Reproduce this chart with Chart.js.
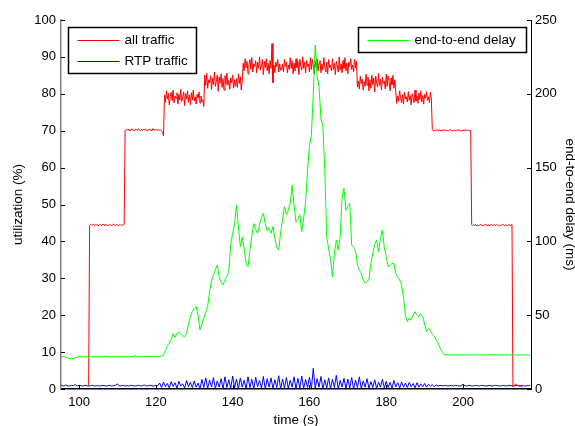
<!DOCTYPE html>
<html>
<head>
<meta charset="utf-8">
<script src="https://cdn.jsdelivr.net/npm/chart.js@4.4.1/dist/chart.umd.min.js"></script>
<style>
  body { margin: 0; background: #fff; }
  #wrap { width: 575px; height: 426px; }
</style>
</head>
<body>
<div id="wrap"><canvas id="c" width="575" height="426"></canvas></div>
<script>
// all traffic sampled every 0.25 s from t = 102.5 s
var trafficStart = 102.5;
var trafficStep = 0.25;
// RTP traffic and delay sampled every 0.5 s from t = 95 s
var sampleStart = 95;
var sampleStep = 0.5;

// all traffic (%), left axis
var allTraffic = [
  0.9,
  44.3, 44.6, 44.4, 44.5, 44.7, 44.3, 44.5, 44.4, 44.6, 44.2, 44.5, 44.6, 44.3, 44.4, 44.7, 44.5, 44.3, 44.6, 44.4,
  44.2, 44.5, 44.6, 44.4, 44.3, 44.5, 44.7, 44.4, 44.3, 44.6, 44.5, 44.2, 44.4, 44.6, 44.3, 44.5, 44.4, 44.6,
  70.0, 70.3, 70.1, 70.4, 70.2, 69.9, 70.3, 70.5, 70.1, 70.2, 70.0, 70.4, 70.3, 70.1, 70.6, 70.2, 70.0, 70.3, 70.1, 70.4,
  70.2, 70.5, 70.1, 69.9, 70.3, 70.2, 70.4, 70.0, 70.2, 70.6, 70.1, 70.3, 70.2, 70.4, 70.0, 70.3, 70.1, 70.2, 70.0, 69.5, 68.6,
  79.7, 77.7, 80.8, 78.6, 80.1, 77.0, 79.2, 80.5, 78.1, 81.0, 77.5, 79.4, 78.8, 80.3, 77.2, 79.9, 78.3, 81.2, 77.9, 79.0,
  80.5, 76.8, 80.1, 78.6, 80.8, 77.7, 79.7, 77.0, 80.3, 78.3, 81.0, 78.1, 79.2, 77.2, 79.9, 78.8, 80.5, 77.5, 79.4, 77.9, 78.4, 76.6,
  85.1, 82.3, 85.6, 81.5, 83.8, 83.0, 84.9, 81.2, 84.3, 82.5, 85.9, 82.0, 83.3, 85.1, 80.7, 84.6, 82.8, 85.4, 81.7, 84.1,
  81.0, 84.9, 82.5, 85.6, 82.3, 83.6, 81.2, 84.3, 83.0, 85.1, 81.5, 83.8, 82.0, 84.1, 81.7, 85.4, 82.8, 84.6, 81.0, 83.6,
  88.3, 86.2, 89.5, 87.1, 88.8, 85.4, 87.8, 89.3, 86.6, 89.8, 85.9, 88.1, 87.4, 89.0, 85.7, 88.6, 86.9, 90.0, 86.4, 87.6,
  89.3, 85.2, 88.8, 87.1, 89.5, 86.2, 88.3, 85.4, 89.0, 86.9, 93.6, 83.0, 87.8, 85.7, 88.6, 87.4, 89.3, 85.9, 88.1, 86.4,
  86.4, 88.1, 85.9, 89.3, 87.4, 88.6, 85.7, 87.8, 86.6, 89.8, 86.9, 89.0, 85.4, 88.3, 86.2, 89.5, 87.1, 88.8, 85.2, 89.3,
  87.6, 86.4, 90.0, 86.9, 88.6, 85.7, 89.0, 87.4, 88.1, 85.9, 89.8, 86.6, 89.3, 87.8, 85.4, 88.8, 87.1, 89.5, 86.2, 88.3,
  89.0, 85.7, 88.1, 86.4, 89.8, 87.4, 85.9, 88.6, 85.4, 89.3, 87.1, 87.8, 86.2, 89.5, 86.6, 88.3, 85.2, 88.8, 87.6, 85.9,
  90.0, 86.4, 88.1, 85.7, 89.0, 86.9, 89.8, 86.2, 88.3, 85.4, 88.6, 87.4, 89.5, 86.6, 87.8, 85.9, 89.3, 87.1, 88.8,
  81.8, 83.5, 81.3, 84.8, 82.8, 84.0, 81.0, 83.3, 82.0, 85.3, 82.3, 84.5, 80.8, 83.8, 81.5, 85.0, 82.5, 84.3, 80.5, 84.8,
  83.0, 81.8, 85.5, 82.3, 84.0, 81.0, 84.5, 82.8, 83.5, 81.3, 85.3, 82.0, 84.8, 83.3, 80.8, 84.3, 82.5, 85.0, 81.5, 83.8,
  80.2, 77.4, 79.4, 78.0, 80.8, 78.8, 77.6, 79.8, 77.2, 80.4, 78.6, 79.2, 77.8, 80.6, 78.2, 79.6, 77.0, 80.0, 79.0, 77.6,
  81.0, 78.0, 79.4, 77.4, 80.2, 78.4, 80.8, 77.8, 79.6, 77.2, 79.8, 78.8, 80.6, 78.2, 79.2, 77.6, 80.4, 78.6,
  70.3, 70.0, 70.2, 69.9, 70.1, 70.3, 70.0, 70.2, 70.1, 69.9, 70.2, 70.0, 70.3, 70.1, 70.2, 69.9, 70.1, 70.0, 70.2, 70.3,
  70.0, 70.1, 69.9, 70.2, 70.1, 70.0, 70.3, 70.1, 70.2, 70.0, 69.9, 70.1, 70.2, 70.0, 70.3, 70.1, 70.0, 70.2, 70.1, 69.9, 70.1,
  44.6, 44.3, 44.5, 44.4, 44.6, 44.2, 44.5, 44.3, 44.4, 44.6, 44.5, 44.3, 44.2, 44.5, 44.4, 44.6, 44.3, 44.5, 44.4, 44.2,
  44.5, 44.6, 44.3, 44.4, 44.5, 44.3, 44.6, 44.4, 44.2, 44.5, 44.3, 44.4, 44.6, 44.5, 44.3, 44.4, 44.5, 44.2, 44.4, 44.6,
  44.3, 44.5, 44.4,
  0.6, 0.9, 1.2, 1.4, 1.1, 0.8, 0.9, 0.7, 0.8, 0.6, 0.7
];

// RTP traffic (%), left axis
var rtpTraffic = [
  0.9, 1.0, 0.8, 1.1, 0.9, 0.8, 1.0, 0.9, 1.2, 0.8,
  1.0, 0.9, 0.8, 1.0, 0.9, 0.8, 0.9, 1.0, 0.8, 0.9,
  0.9, 0.8, 1.0, 0.9, 0.8, 0.9, 1.0, 0.8, 0.9, 1.0,
  1.4, 0.8, 0.9, 1.0, 0.8, 0.9, 0.8, 1.0, 0.9, 0.8,
  0.9, 1.0, 0.8, 0.9, 1.1, 0.8, 0.9, 1.0, 0.9, 0.8,
  1.0, 0.9, 1.6, 0.4, 1.9, 0.6, 1.5, 0.3, 2.0, 0.7,
  1.7, 0.2, 2.1, 0.8, 1.4, 0.3, 2.3, 0.6, 1.8, 0.4,
  2.2, 0.5, 1.6, 0.1, 2.6, 0.4, 3.0, 0.2, 2.4, 0.6,
  3.1, 0.1, 2.2, 0.5, 2.8, 0.0, 3.3, 0.4, 2.5, 0.2,
  3.5, 0.3, 2.7, 0.0, 3.0, 0.5, 2.4, 0.1, 3.3, 0.4,
  2.6, 0.0, 3.2, 0.6, 2.3, 0.2, 3.4, 0.0, 2.8, 0.5,
  3.0, 0.1, 2.5, 0.4, 3.6, 0.0, 2.7, 0.3, 3.1, 0.1,
  2.4, 0.5, 3.3, 0.0, 2.9, 0.2, 3.5, 0.1, 2.6, 0.4,
  3.2, 0.0, 5.6, 0.2, 2.8, 0.5, 3.4, 0.0, 2.5, 0.3,
  3.0, 0.1, 2.6, 0.4, 3.7, 0.0, 2.3, 0.5, 2.9, 0.2,
  2.7, 0.3, 3.1, 0.0, 2.4, 0.4, 3.3, 0.1, 2.2, 0.5,
  2.8, 0.2, 2.0, 0.4, 2.5, 0.1, 1.9, 0.5, 2.6, 0.3,
  2.1, 0.4, 1.8, 0.2, 2.3, 0.6, 1.7, 0.3, 1.9, 0.5,
  1.6, 0.4, 1.8, 0.6, 1.5, 0.3, 1.7, 0.5, 1.4, 0.6,
  1.5, 0.5, 1.3, 0.7, 1.2, 0.6, 1.1, 0.8, 1.0, 0.9,
  0.9, 1.0, 0.8, 0.9, 1.0, 0.8, 1.0, 0.9, 0.8, 0.9,
  1.3, 0.9, 0.8, 1.0, 0.9, 0.8, 0.9, 1.0, 0.8, 0.9,
  1.0, 0.9, 0.8, 0.9, 1.0, 0.8, 0.9, 1.0, 0.9, 0.8,
  0.9, 1.0, 0.8, 0.9, 1.0, 0.9, 0.8, 0.9, 1.0, 0.9,
  0.9, 1.0, 0.8, 0.9, 0.9, 1.0
];

// end-to-end delay (ms), right axis
var delay = [
  22.0, 21.8, 22.1, 21.5, 21.0, 20.6, 20.8, 20.4, 20.9, 21.6,
  21.9, 21.8, 21.9, 21.8, 21.9, 21.8, 21.9, 21.8, 21.8, 21.9,
  21.8, 22.0, 21.8, 21.9, 22.2, 21.9, 21.8, 21.9, 22.1, 21.8,
  21.9, 21.8, 21.9, 21.9, 21.8, 21.9, 21.8, 22.0, 21.9, 22.6,
  22.0, 21.9, 21.9, 22.0, 21.9, 22.0, 22.1, 21.9, 22.0, 22.1,
  22.0, 22.1, 22.2, 22.4, 23.0, 26.0, 29.5, 31.0, 33.5, 37.5,
  35.0, 37.8, 38.5, 37.0, 36.0, 35.4, 37.5, 44.0, 49.0, 52.5,
  54.5, 55.8, 50.0, 40.0, 44.0, 48.5, 52.0, 56.0, 66.0, 73.8,
  77.0, 81.0, 84.0, 76.0, 72.0, 70.5, 74.0, 76.0, 80.0, 98.0,
  105.5, 112.0, 124.7, 110.0, 96.4, 103.0, 95.0, 85.0, 82.9, 94.0,
  104.0, 112.0, 108.0, 105.5, 111.0, 116.0, 119.0, 112.0, 107.0, 109.0,
  105.5, 110.0, 102.0, 96.0, 94.0, 106.0, 115.0, 123.5, 118.0, 121.0,
  126.0, 138.0, 124.0, 113.0, 115.0, 118.0, 106.6, 116.0, 127.0, 148.0,
  165.0, 172.0, 200.0, 233.0, 212.0, 205.0, 183.0, 177.7, 148.0, 103.0,
  95.0, 88.0, 76.0, 92.0, 101.0, 94.0, 103.0, 130.0, 136.0, 121.0,
  124.0, 125.8, 97.6, 96.0, 94.0, 84.0, 80.6, 78.4, 74.0, 71.6,
  73.0, 74.0, 85.0, 92.0, 98.0, 101.0, 93.0, 102.0, 107.7, 96.0,
  89.6, 82.9, 84.0, 85.0, 85.0, 78.0, 76.0, 74.0, 70.5, 62.0,
  50.0, 45.6, 48.0, 46.7, 50.0, 52.4, 50.0, 49.0, 51.0, 49.0,
  44.0, 38.8, 41.0, 40.0, 37.0, 36.0, 33.0, 31.0, 28.0, 25.5,
  23.5, 23.2, 23.1, 23.0, 23.2, 23.1, 23.0, 23.1, 23.2, 23.0,
  23.1, 23.0, 23.1, 23.2, 23.0, 23.1, 23.3, 23.1, 23.0, 23.1,
  23.2, 23.1, 23.0, 23.1, 23.3, 23.1, 23.2, 23.0, 23.1, 23.2,
  23.1, 23.0, 23.1, 23.2, 23.0, 23.1, 23.0, 23.1, 23.0, 23.0,
  23.1, 23.0, 23.0, 23.1, 23.0, 23.0
];

var timeTicks = [100, 120, 140, 160, 180, 200];

var FONT = '"Liberation Sans", Arial, Helvetica, sans-serif';

function toPoints(arr, start, step) {
  return arr.map(function(v, i) { return { x: start + i * step, y: v }; });
}

// ticks drawn inward, matlab style
var inwardTicks = {
  id: 'inwardTicks',
  afterDraw: function(chart) {
    var ctx = chart.ctx;
    var area = chart.chartArea;
    ctx.save();
    ctx.strokeStyle = '#000';
    ctx.lineWidth = 1;
    ctx.beginPath();
    chart.scales.x.ticks.forEach(function(t) {
      var px = Math.round(chart.scales.x.getPixelForValue(t.value)) + 0.5;
      ctx.moveTo(px, area.bottom);
      ctx.lineTo(px, area.bottom - 4);
    });
    chart.scales.y.ticks.forEach(function(t) {
      var py = Math.round(chart.scales.y.getPixelForValue(t.value)) + 0.5;
      ctx.moveTo(area.left, py);
      ctx.lineTo(area.left + 4, py);
    });
    chart.scales.y2.ticks.forEach(function(t) {
      var py = Math.round(chart.scales.y2.getPixelForValue(t.value)) + 0.5;
      ctx.moveTo(area.right, py);
      ctx.lineTo(area.right - 4, py);
    });
    ctx.stroke();
    ctx.restore();
  }
};

// two separate legend boxes like the original figure
var boxLegend = {
  id: 'boxLegend',
  afterDraw: function(chart) {
    var boxes = [
      { x: 68.5, y: 27.5, w: 128, items: [0, 1] },
      { x: 358.5, y: 27.5, w: 168, items: [2] }
    ];
    var ctx = chart.ctx;
    ctx.save();
    ctx.font = '13.5px ' + FONT;
    ctx.textBaseline = 'middle';
    boxes.forEach(function(b) {
      var h = 4 + 21 * b.items.length;
      ctx.fillStyle = '#fff';
      ctx.fillRect(b.x, b.y, b.w, h);
      ctx.strokeStyle = '#000';
      ctx.lineWidth = 1.5;
      ctx.strokeRect(b.x, b.y, b.w, h);
      b.items.forEach(function(idx, k) {
        var ds = chart.data.datasets[idx];
        var ly = Math.round(b.y + 12 + 21 * k) + 0.5;
        ctx.strokeStyle = ds.borderColor;
        ctx.lineWidth = 1.2;
        ctx.beginPath();
        ctx.moveTo(b.x + 9, ly);
        ctx.lineTo(b.x + 51, ly);
        ctx.stroke();
        ctx.fillStyle = '#000';
        ctx.fillText(ds.label, b.x + 56, ly);
      });
    });
    ctx.restore();
  }
};

var ctx = document.getElementById('c').getContext('2d');
var chart = new Chart(ctx, {
  type: 'line',
  data: {
    datasets: [
      {
        label: 'all traffic',
        data: toPoints(allTraffic, trafficStart, trafficStep),
        borderColor: '#ff0000',
        borderWidth: 1,
        yAxisID: 'y',
        order: 2
      },
      {
        label: 'RTP traffic',
        data: toPoints(rtpTraffic, sampleStart, sampleStep),
        borderColor: '#0000ff',
        borderWidth: 1,
        yAxisID: 'y',
        order: 3
      },
      {
        label: 'end-to-end delay',
        data: toPoints(delay, sampleStart, sampleStep),
        borderColor: '#00ff00',
        borderWidth: 1,
        yAxisID: 'y2',
        order: 1
      }
    ]
  },
  options: {
    responsive: false,
    animation: false,
    events: [],
    layout: { padding: { top: 20, left: 0, right: 0, bottom: 0 } },
    elements: {
      point: { radius: 0 },
      line: { tension: 0, fill: false }
    },
    plugins: {
      legend: { display: false },
      tooltip: { enabled: false }
    },
    scales: {
      x: {
        type: 'linear',
        position: 'bottom',
        min: 95.3,
        max: 217.7,
        afterBuildTicks: function(s) {
          s.ticks = timeTicks.map(function(v) { return { value: v }; });
        },
        afterFit: function(s) { s.height = 37; },
        grid: { display: false, drawTicks: false },
        border: { display: true, color: '#000', width: 1.5 },
        ticks: { color: '#000', padding: 6, maxRotation: 0, font: { family: FONT, size: 13 } },
        title: {
          display: true,
          text: 'time (s)',
          color: '#000',
          padding: { top: 0, bottom: -1 },
          font: { family: FONT, size: 13.5, lineHeight: 1 }
        }
      },
      y: {
        position: 'left',
        min: 0,
        max: 100,
        ticks: { stepSize: 10, color: '#000', padding: 5, font: { family: FONT, size: 13 } },
        afterFit: function(s) { s.width = 61; },
        grid: { display: false, drawTicks: false },
        border: { display: true, color: '#808080', width: 1.5 },
        title: {
          display: true,
          text: 'utilization (%)',
          color: '#000',
          padding: { top: 12, bottom: 0 },
          font: { family: FONT, size: 13.5, lineHeight: 1 }
        }
      },
      y2: {
        position: 'right',
        min: 0,
        max: 250,
        ticks: { stepSize: 50, color: '#000', padding: 4, font: { family: FONT, size: 13 } },
        afterFit: function(s) { s.width = 44; },
        grid: { display: false, drawTicks: false },
        border: { display: true, color: '#000', width: 1 },
        title: {
          display: true,
          text: 'end-to-end delay (ms)',
          color: '#000',
          padding: { top: -1, bottom: 0 },
          font: { family: FONT, size: 13.5, lineHeight: 1 }
        }
      }
    }
  },
  plugins: [inwardTicks, boxLegend]
});
</script>
</body>
</html>
